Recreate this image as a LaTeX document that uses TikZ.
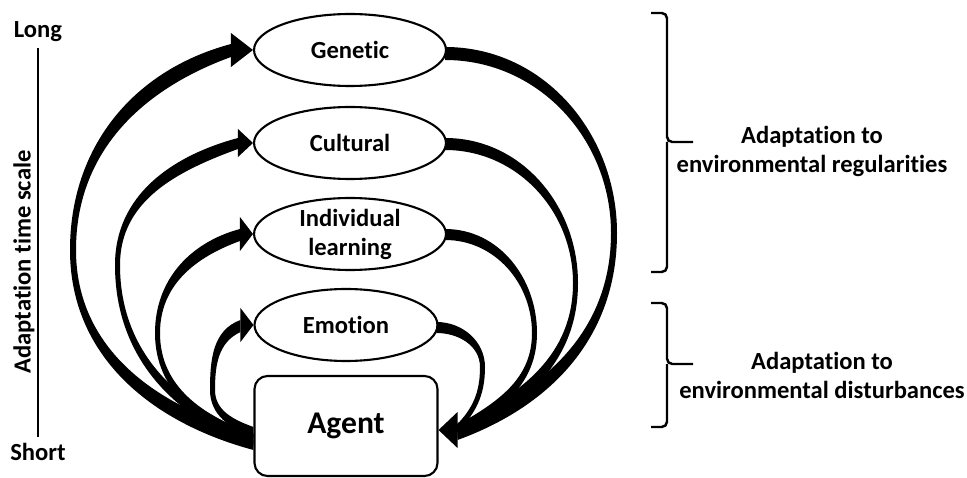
\documentclass[tikz,border=0pt]{standalone}
\usepackage{fontspec}
\setmainfont[Ligatures={NoCommon}]{Carlito}
\usepackage{tikz}
\usetikzlibrary{shapes,calc}

\tikzset{
	stage/.style={ellipse,draw,line width=1.2pt,minimum width=3.84cm,minimum height=1.44cm,inner sep=0pt,align=center,font=\bfseries\fontsize{14}{16.5}\selectfont},
	agentbox/.style={rectangle,draw,rounded corners=0.26cm,line width=1.2pt,minimum width=3.66cm,minimum height=2cm,font=\bfseries\fontsize{18}{20}\selectfont},
	lbl/.style={align=center,font=\bfseries\fontsize{14}{16.5}\selectfont},
	flow/.style={fill=black},
	brace/.style={draw,line width=1.4pt,rounded corners=3pt}
}

\begin{document}
\begin{tikzpicture}[x=0.02cm,y=0.02cm]
		\useasboundingbox (0,0) rectangle (967,477);
		\node[stage] (gen) at (350,427) {Genetic};
		\node[stage] (cul) at (350,334) {Cultural};
		\node[stage] (ind) at (350,243) {Individual\\learning};
		\node[stage,minimum width=3.66cm] (emo) at (346,152) {Emotion};
		\node[agentbox] (agent) at (346,51) {Agent};
		\node[lbl] (long) at (38,445) {Long};
		\node[lbl] (short) at (38,25) {Short};
		\node[lbl,rotate=90] (scale) at (24,215) {Adaptation time scale};
		\node[lbl] (reg) at (812,326) {Adaptation to\\environmental regularities};
		\node[lbl] (dist) at (822,102) {Adaptation to\\environmental disturbances};
				%
		\draw[line width=1.2pt] (long) -- (short);
		\path[brace] (651,464) -| (667,335) -- (693,335) (667,335) |- (651,205);
		\path[brace] (651,174) -| (667,113) -- (693,113) (667,113) |- (651,50);
				%
		\fill[flow] ($(gen.west)+(-22,6)$) to[out=195,in=90] (70,227) to[out=270,in=165] ($(agent.west)+(0,-24)$)
			-- ($(agent.west)+(0,-7)$) to[out=165,in=270] (76,227) to[out=90,in=200] ($(gen.west)+(-22,-7)$) -- cycle;
		\fill[flow] ($(cul.west)+(-15,5)$) to[out=195,in=90] (115,212) to[out=270,in=160] ($(agent.west)+(0,-20)$)
			-- ($(agent.west)+(0,-8)$) to[out=160,in=270] (120,212) to[out=90,in=200] ($(cul.west)+(-15,-6)$) -- cycle;
		\fill[flow] ($(ind.west)+(-13,5)$) to[out=195,in=90] (155,144) to[out=270,in=160] ($(agent.west)+(0,-18)$)
			-- ($(agent.west)+(0,-8)$) to[out=160,in=270] (160,144) to[out=90,in=200] ($(ind.west)+(-13,-7)$) -- cycle;
		\fill[flow] ($(emo.west)+(-13,5)$) to[out=200,in=90] (210,87) to[out=270,in=160] ($(agent.west)+(0,-11)$)
			-- ($(agent.west)+(0,-1)$) to[out=160,in=270] (215,87) to[out=90,in=205] ($(emo.west)+(-13,-7)$) -- cycle;
		\fill[flow] (gen.west) -- ++(-22,17) -- ++(0,-34) -- cycle;
		\fill[flow] (cul.west) -- ++(-15,14) -- ++(0,-28) -- cycle;
		\fill[flow] (ind.west) -- ++(-13,17) -- ++(0,-34) -- cycle;
		\fill[flow] (emo.west) -- ++(-13,17) -- ++(0,-34) -- cycle;
				%
		\fill[flow] ($(gen.east)+(-2,3)$) to[out=0,in=90] (617,244) to[out=270,in=20] ($(agent.east)+(19,-14)$)
			-- ($(agent.east)+(19,3)$) to[out=20,in=270] (611,244) to[out=90,in=0] ($(gen.east)+(-2,-10)$) -- cycle;
		\fill[flow] ($(cul.east)+(-2,5)$) to[out=0,in=90] (578,194) to[out=270,in=25] ($(agent.east)+(19,-12)$)
			-- ($(agent.east)+(19,2)$) to[out=25,in=270] (573,194) to[out=90,in=0] ($(cul.east)+(-2,-7)$) -- cycle;
		\fill[flow] ($(ind.east)+(-2,5)$) to[out=0,in=90] (537,144) to[out=270,in=30] ($(agent.east)+(19,-10)$)
			-- ($(agent.east)+(19,1)$) to[out=30,in=270] (532,144) to[out=90,in=0] ($(ind.east)+(-2,-6)$) -- cycle;
		\fill[flow] ($(emo.east)+(-2,3)$) to[out=0,in=90] (485,110) to[out=270,in=45] ($(agent.east)+(17,-8)$)
			-- ($(agent.east)+(17,0)$) to[out=45,in=270] (480,110) to[out=90,in=0] ($(emo.east)+(-2,-8)$) -- cycle;
		\fill[flow] ($(agent.east)+(0,-4)$) -- ++(19,18) -- ++(0,-36) -- cycle;
	\end{tikzpicture}
\end{document}
